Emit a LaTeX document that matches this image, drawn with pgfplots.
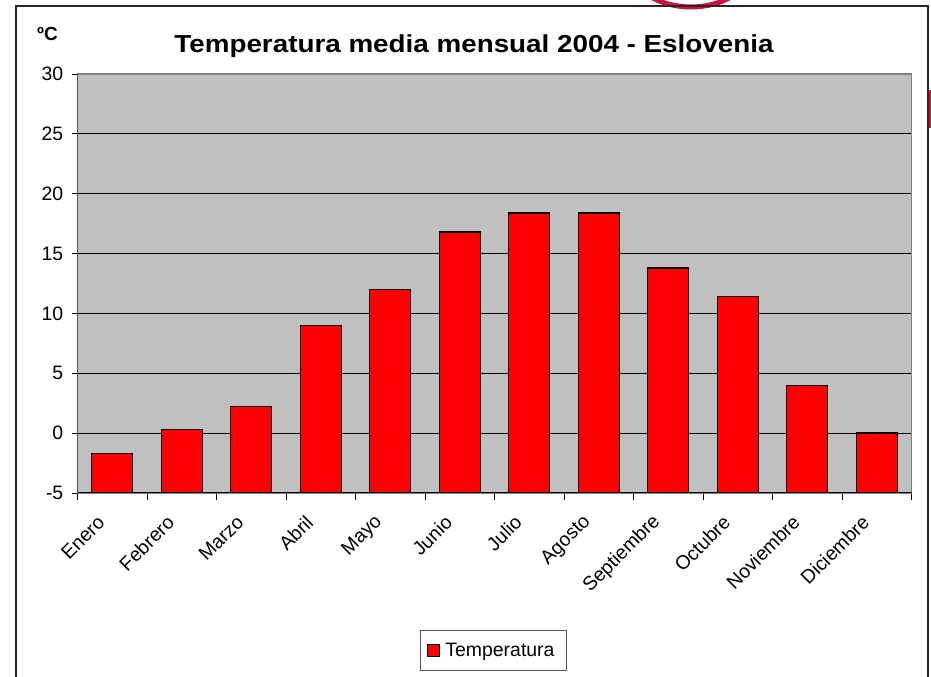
\documentclass[border=0pt]{standalone}
\usepackage{fontspec}
\setmainfont{Liberation Sans}
\newfontfamily\titlefont{Liberation Sans}[FakeStretch=1.13]
\usepackage{pgfplots}
\pgfplotsset{compat=1.18}
\definecolor{swoosh}{RGB}{204,16,64}
\definecolor{plotbg}{RGB}{192,192,192}
\begin{document}
\begin{tikzpicture}[x=1bp,y=1bp]
\useasboundingbox (0,0) rectangle (931,677);
\fill[white] (0,0) rectangle (931,677);
\draw[swoosh, line width=5bp] (648,682) .. controls (672,666) and (710,666) .. (734,682);
\fill[swoosh] (928.5,549) rectangle (931,587);
\draw[black!85, line width=1.3bp] (16,-10) rectangle (928,671);
\node[anchor=base, inner sep=0pt, font=\titlefont\bfseries\fontsize{24.7}{30}\selectfont] at (474,624.3) {Temperatura media mensual 2004 - Eslovenia};
\node[anchor=base west, inner sep=0pt, font=\bfseries\fontsize{19}{22}\selectfont] at (37,636) {ºC};
\begin{axis}[
  at={(77.5bp,184bp)}, anchor=south west,
  width=834bp, height=419bp, scale only axis,
  y coord trafo/.code={\pgfmathparse{#1+5}},
  y coord inv trafo/.code={\pgfmathparse{#1-5}},
  ymin=-5, ymax=30, ytick={-5,0,...,30},
  xmin=-0.5, xmax=11.5,
  xtick={0,...,11},
  xticklabels={Enero,Febrero,Marzo,Abril,Mayo,Junio,Julio,Agosto,Septiembre,Octubre,Noviembre,Diciembre},
  minor xtick={-0.5,0.5,...,11.5},
  tick pos=left,
  major x tick style={draw=none},
  minor x tick style={black, line width=0.9bp},
  major y tick style={black, line width=0.9bp},
  tick align=outside,
  major tick length=6bp, minor tick length=7bp,
  axis background/.style={fill=plotbg},
  axis line style={draw=gray, line width=1.2bp},
  ymajorgrids, grid style={black, line width=0.8bp},
  /pgf/number format/assume math mode=true,
  ticklabel style={font=\fontsize{19.5}{22}\selectfont},
  yticklabel style={anchor=east, inner sep=0pt, xshift=-8bp},
  xticklabel style={inner sep=0pt, xshift=-11bp, yshift=-20bp, rotate=45, anchor=east},
  ybar, bar width=41bp,
  legend style={at={(0.4988,-0.376)}, anchor=center, draw=black!65, line width=1bp,
    font=\fontsize{19.5}{22}\selectfont, inner xsep=6bp, inner ysep=11bp,
    nodes={inner xsep=6bp}},
  legend image code/.code={\draw[#1, line width=0.9bp] (0bp,-6bp) rectangle (12bp,6bp);},
]
\addplot[fill=red, draw=black, line width=1.3bp] coordinates {
(0,-1.7) (1,0.3) (2,2.2) (3,9.0) (4,12.0) (5,16.8) (6,18.4) (7,18.4) (8,13.8) (9,11.4) (10,4.0) (11,0.0)};
\addlegendentry{Temperatura}
\draw[black, line width=1.2bp] (rel axis cs:0,1) -- (rel axis cs:0,0) -- (rel axis cs:1,0);
\end{axis}
\end{tikzpicture}
\end{document}
